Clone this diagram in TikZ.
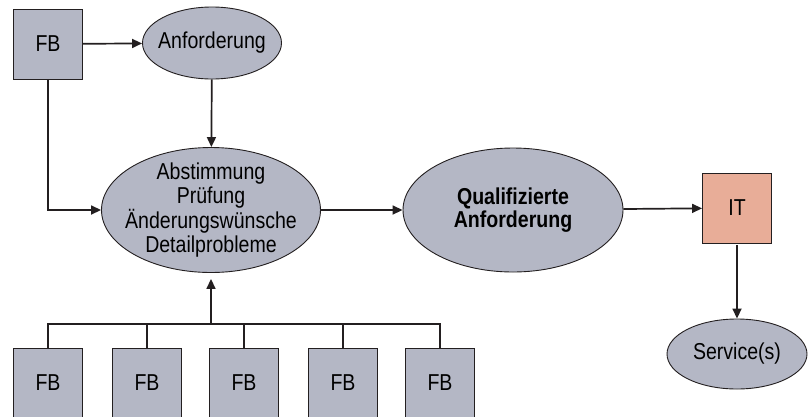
\documentclass[tikz,border=0pt]{standalone}
\usepackage{fontspec}
\setmainfont{Liberation Sans}[FakeStretch=0.85]
\usetikzlibrary{shapes.geometric,arrows.meta,positioning}
\definecolor{mygray}{RGB}{180,183,197}
\definecolor{mysalmon}{RGB}{232,173,152}
\definecolor{myline}{RGB}{35,31,32}

\begin{document}
\begin{tikzpicture}[x=1pt,y=-1pt,
  font=\fontsize{23}{24.5}\selectfont,
  box/.style={draw=myline, line width=0.9pt, fill=mygray, minimum width=69pt, minimum height=70pt, inner sep=0pt},
  oval/.style={draw=myline, line width=0.9pt, fill=mygray, ellipse, inner sep=0pt, align=center},
  conn/.style={myline, line width=1.7pt},
  arr/.style={conn, -{Triangle[length=10pt,width=9pt]}}]
  \clip (0,0) rectangle (811,416);

  % top row
  \node[box] (fbtop) at (48,44) {FB};
  \node[oval, inner xsep=-5pt, minimum width=139pt, minimum height=72pt] (anf) at (212,43) {Anforderung};

  % middle row
  \node[oval, inner xsep=-11pt, inner ysep=-6pt, minimum width=219pt, minimum height=125pt] (abst) at (211,210)
    {Abstimmung\\Prüfung\\Änderungswünsche\\Detailprobleme};
  \node[oval, minimum width=220pt, minimum height=124pt, font=\fontsize{23}{23}\selectfont\bfseries] (quali) at (513,210)
    {Qualifizierte\\Anforderung};
  \node[box, fill=mysalmon] (it) at (737,208) {IT};
  \node[oval, minimum width=140pt, minimum height=70pt] (serv) at (737,354) {Service(s)};

  % bottom row
  \node[box] (fb1) at (48,383) {FB};
  \node[box] (fb2) at (147,383) {FB};
  \node[box] (fb3) at (244,383) {FB};
  \node[box] (fb4) at (343,383) {FB};
  \node[box] (fb5) at (440,383) {FB};
  \coordinate (bus) at (211,324);

  % connectors
  \draw[arr] (fbtop) -- (anf);
  \draw[arr] (anf) -- (abst);
  \draw[arr] (fbtop.south) |- (abst.west);
  \draw[arr] (abst) -- (quali);
  \draw[arr] (quali) -- (it);
  \draw[arr, shorten <=2pt] (it) -- (serv);
  \draw[conn] (fb1.north) |- (fb5.north |- bus) -- (fb5.north);
  \draw[conn] (fb2.north) -- (fb2.north |- bus);
  \draw[conn] (fb3.north) -- (fb3.north |- bus);
  \draw[conn] (fb4.north) -- (fb4.north |- bus);
  \draw[arr, shorten >=6pt] (bus) -- (abst.south);
\end{tikzpicture}
\end{document}
